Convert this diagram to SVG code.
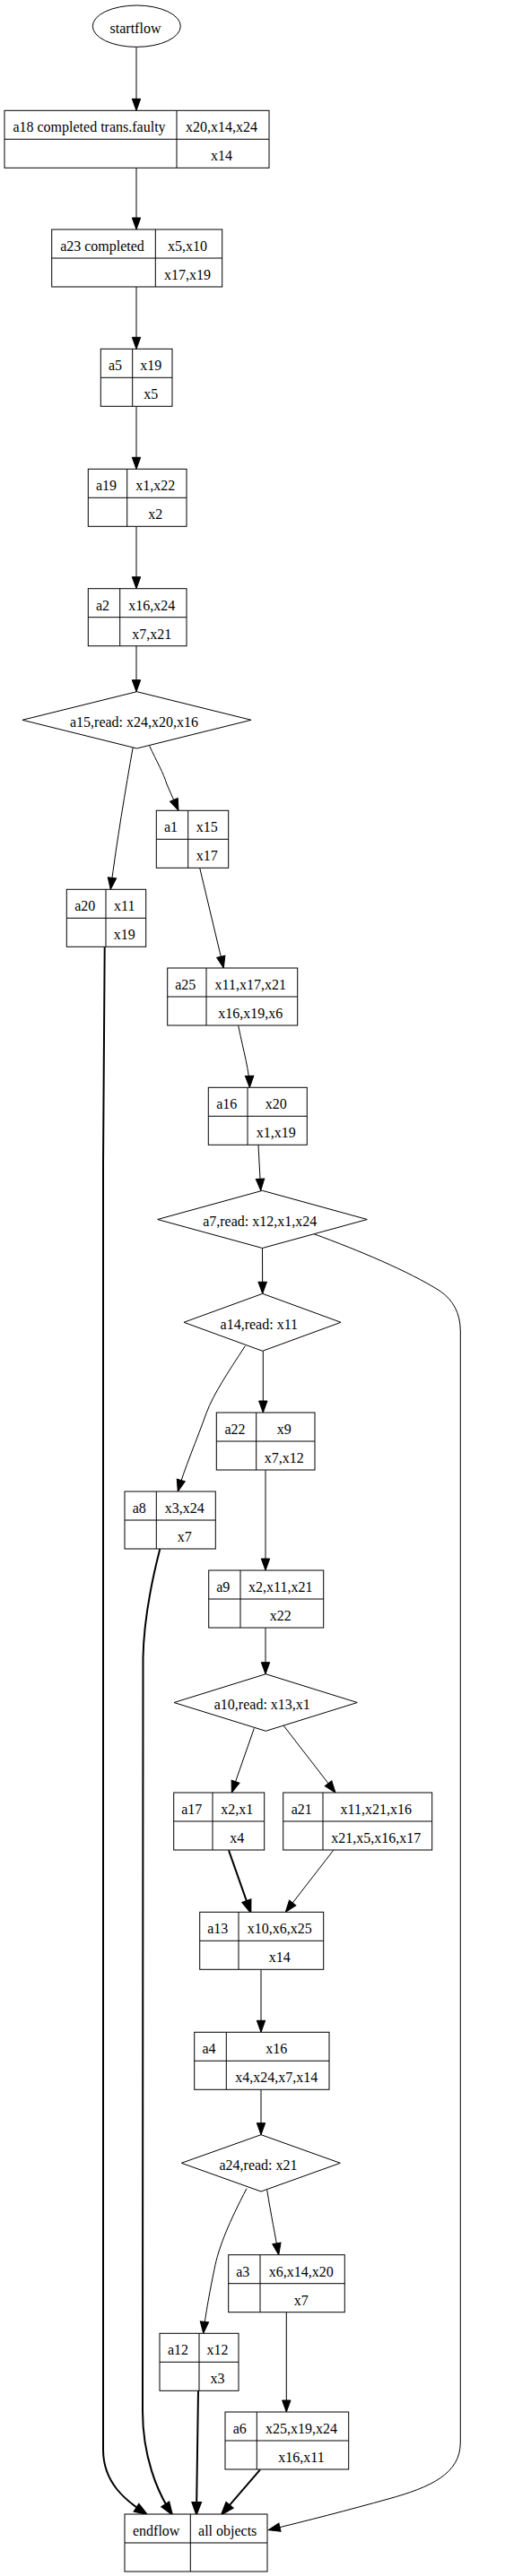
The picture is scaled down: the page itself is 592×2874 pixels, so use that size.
<svg xmlns="http://www.w3.org/2000/svg" width="592" height="2874" viewBox="0 0 592 2874">
<style>
.n{fill:#fff;stroke:#000;stroke-width:1}
.d{stroke:#000;stroke-width:1;fill:none}
text{font-family:"Liberation Serif","Times New Roman",serif;font-size:16px;fill:#000;text-anchor:middle}
.e{fill:none;stroke:#000;stroke-width:1;marker-end:url(#arr)}
.b{fill:none;stroke:#000;stroke-width:2;marker-end:url(#arrb)}
</style>
<defs>
<marker id="arr" markerUnits="userSpaceOnUse" markerWidth="15" markerHeight="12" refX="13" refY="4.7" orient="auto" overflow="visible"><path d="M0,0 L13,4.7 L0,9.4 z" fill="#000" stroke="#000" stroke-width="1"/></marker>
<marker id="arrb" markerUnits="userSpaceOnUse" markerWidth="15" markerHeight="12" refX="13" refY="4.7" orient="auto" overflow="visible"><path d="M0,0 L13,4.7 L0,9.4 z" fill="#000" stroke="#000" stroke-width="2"/></marker>
</defs>
<rect width="592" height="2874" fill="#fff"/>
<g id="edges">
<path class="e" d="M152,52.3 L152,123.3"/>
<path class="e" d="M152,187.3 L152,256"/>
<path class="e" d="M152,320 L152,389.3"/>
<path class="e" d="M152,453.3 L152,523.3"/>
<path class="e" d="M152,587.3 L152,656.7"/>
<path class="e" d="M152,720.7 L152,771.7"/>
<path class="e" d="M148.3,833.3 C140,880 130,940 123.3,992.3"/>
<path class="e" d="M166.7,832.3 C175,850 182,862 186,875 C190,885 195,895 199,904.3"/>
<path class="e" d="M222.7,968.3 L249.3,1080"/>
<path class="e" d="M265.7,1144.3 C272,1175 278,1195 278.3,1213.3"/>
<path class="e" d="M288,1277.3 L290.7,1328.3"/>
<path class="e" d="M292.5,1392.5 L292.7,1443.3"/>
<path class="e" d="M350,1376.7 C400,1395 455,1418 490,1440 C505,1450 513.3,1465 513.3,1485 L513.3,2725 C513.3,2760 480,2775 433,2788 C390,2800 340,2813 299.3,2822.7"/>
<path class="e" d="M293.3,1507.3 L293.3,1576"/>
<path class="e" d="M273.3,1501.7 C255,1530 238,1555 230,1576.7 C220,1605 205,1640 198.3,1664"/>
<path class="e" d="M296,1640.3 L296,1752"/>
<path class="e" d="M296,1816.3 L296,1867.7"/>
<path class="e" d="M283.3,1928.3 L258.3,2000"/>
<path class="e" d="M316,1925 L374,2000"/>
<path class="b" d="M255,2064.3 L279.3,2133.3"/>
<path class="e" d="M371.7,2064.3 L318.3,2133.3"/>
<path class="e" d="M291,2197.3 L291,2267.3"/>
<path class="e" d="M291,2331.7 L291,2381.7"/>
<path class="e" d="M297.7,2443.3 C302,2470 307,2495 310.7,2515.7"/>
<path class="e" d="M275,2441.7 C255,2480 245,2505 240,2526.7 C233,2560 228,2590 226.7,2603.3"/>
<path class="e" d="M319.3,2579.3 L319.3,2691"/>
<path class="b" d="M116.7,1056.7 L115,1300 L115,2733 C115,2770 140,2790 163.3,2805"/>
<path class="b" d="M178.3,1728.3 C165,1780 160,1820 159.5,1850 L159,2690 C159,2740 175,2780 191.7,2805"/>
<path class="b" d="M221,2667.3 L219,2805"/>
<path class="b" d="M290,2755.3 L247.3,2805"/>
</g>
<g id="startflow">
<ellipse class="n" cx="152.3" cy="29.2" rx="49" ry="23.2"/>
<text x="151" y="36.7">startflow</text>
</g>
<g id="a18">
<rect class="n" x="5" y="123.3" width="295" height="64"/>
<path class="d" d="M197,123.3 V187.3 M5,155.3 H300"/>
<text x="99.5" y="147.3">a18 completed trans.faulty</text>
<text x="247" y="147.3">x20,x14,x24</text>
<text x="247" y="179.3">x14</text>
</g>
<g id="a23">
<rect class="n" x="57.7" y="256" width="190" height="64"/>
<path class="d" d="M173.3,256 V320 M57.7,288 H247.7"/>
<text x="114" y="280">a23 completed</text>
<text x="209" y="280">x5,x10</text>
<text x="209" y="312">x17,x19</text>
</g>
<g id="a5">
<rect class="n" x="112.3" y="389.3" width="79.7" height="64"/>
<path class="d" d="M147.7,389.3 V453.3 M112.3,421.3 H192"/>
<text x="128.5" y="413.3">a5</text>
<text x="168.3" y="413.3">x19</text>
<text x="168.3" y="445.3">x5</text>
</g>
<g id="a19">
<rect class="n" x="98.3" y="523.3" width="109.7" height="64"/>
<path class="d" d="M141.7,523.3 V587.3 M98.3,555.3 H208"/>
<text x="118.5" y="547.3">a19</text>
<text x="173.3" y="547.3">x1,x22</text>
<text x="173.3" y="579.3">x2</text>
</g>
<g id="a2">
<rect class="n" x="98.3" y="656.7" width="109.7" height="64"/>
<path class="d" d="M133.7,656.7 V720.7 M98.3,688.7 H208"/>
<text x="114.5" y="680.7">a2</text>
<text x="169.3" y="680.7">x16,x24</text>
<text x="169.3" y="712.7">x7,x21</text>
</g>
<g id="a15">
<polygon class="n" points="152.5,771.7 280,803.3 152.5,835 25,803.3"/>
<text x="149.5" y="810.7">a15,read: x24,x20,x16</text>
</g>
<g id="a1">
<rect class="n" x="174.3" y="904.3" width="80.4" height="64"/>
<path class="d" d="M209.7,904.3 V968.3 M174.3,936.3 H254.7"/>
<text x="190.5" y="928.3">a1</text>
<text x="230.7" y="928.3">x15</text>
<text x="230.7" y="960.3">x17</text>
</g>
<g id="a20">
<rect class="n" x="74.3" y="992.3" width="88.4" height="64"/>
<path class="d" d="M118,992.3 V1056.3 M74.3,1024.3 H162.7"/>
<text x="94.7" y="1016.3">a20</text>
<text x="138.8" y="1016.3">x11</text>
<text x="138.8" y="1048.3">x19</text>
</g>
<g id="a25">
<rect class="n" x="186.7" y="1080" width="145" height="64"/>
<path class="d" d="M230,1080 V1144 M186.7,1112 H331.7"/>
<text x="206.8" y="1104">a25</text>
<text x="279.3" y="1104">x11,x17,x21</text>
<text x="279.3" y="1136">x16,x19,x6</text>
</g>
<g id="a16">
<rect class="n" x="232.3" y="1213.3" width="110" height="64"/>
<path class="d" d="M276,1213.3 V1277.3 M232.3,1245.3 H342.3"/>
<text x="252.7" y="1237.3">a16</text>
<text x="307.7" y="1237.3">x20</text>
<text x="307.7" y="1269.3">x1,x19</text>
</g>
<g id="a7">
<polygon class="n" points="292.5,1328.3 409.3,1360.5 292.5,1392.5 175.7,1360.5"/>
<text x="289.7" y="1367.7">a7,read: x12,x1,x24</text>
</g>
<g id="a14">
<polygon class="n" points="292.7,1443.3 380,1475.3 292.7,1507.3 205,1475.3"/>
<text x="288.8" y="1482.7">a14,read: x11</text>
</g>
<g id="a22">
<rect class="n" x="241.3" y="1576" width="109.7" height="64"/>
<path class="d" d="M285.7,1576 V1640 M241.3,1608 H351"/>
<text x="262" y="1600">a22</text>
<text x="316.8" y="1600">x9</text>
<text x="316.8" y="1632">x7,x12</text>
</g>
<g id="a8">
<rect class="n" x="139" y="1664" width="101.3" height="64"/>
<path class="d" d="M174.3,1664 V1728 M139,1696 H240.3"/>
<text x="155.2" y="1688">a8</text>
<text x="205.8" y="1688">x3,x24</text>
<text x="205.8" y="1720">x7</text>
</g>
<g id="a9">
<rect class="n" x="232.7" y="1752" width="128" height="64"/>
<path class="d" d="M268,1752 V1816 M232.7,1784 H360.7"/>
<text x="248.8" y="1776">a9</text>
<text x="312.8" y="1776">x2,x11,x21</text>
<text x="312.8" y="1808">x22</text>
</g>
<g id="a10">
<polygon class="n" points="296.3,1867.7 398.3,1899.5 296.3,1931.3 194,1899.5"/>
<text x="292.3" y="1906.7">a10,read: x13,x1</text>
</g>
<g id="a17">
<rect class="n" x="193.7" y="2000" width="101" height="64"/>
<path class="d" d="M237,2000 V2064 M193.7,2032 H294.7"/>
<text x="213.8" y="2024">a17</text>
<text x="264.3" y="2024">x2,x1</text>
<text x="264.3" y="2056">x4</text>
</g>
<g id="a21">
<rect class="n" x="315.7" y="2000" width="166" height="64"/>
<path class="d" d="M360,2000 V2064 M315.7,2032 H481.7"/>
<text x="336.3" y="2024">a21</text>
<text x="419.3" y="2024">x11,x21,x16</text>
<text x="419.3" y="2056">x21,x5,x16,x17</text>
</g>
<g id="a13">
<rect class="n" x="222.7" y="2133.3" width="138" height="64"/>
<path class="d" d="M266,2133.3 V2197.3 M222.7,2165.3 H360.7"/>
<text x="242.8" y="2157.3">a13</text>
<text x="311.8" y="2157.3">x10,x6,x25</text>
<text x="311.8" y="2189.3">x14</text>
</g>
<g id="a4">
<rect class="n" x="216.7" y="2267.3" width="150.3" height="64"/>
<path class="d" d="M252.3,2267.3 V2331.3 M216.7,2299.3 H367"/>
<text x="233" y="2291.3">a4</text>
<text x="308.2" y="2291.3">x16</text>
<text x="308.2" y="2323.3">x4,x24,x7,x14</text>
</g>
<g id="a24">
<polygon class="n" points="291,2381.7 379.3,2413.3 291,2445 202.3,2413.3"/>
<text x="288" y="2420.7">a24,read: x21</text>
</g>
<g id="a3">
<rect class="n" x="254.7" y="2515.7" width="129.6" height="64"/>
<path class="d" d="M290,2515.7 V2579.7 M254.7,2547.7 H384.3"/>
<text x="270.8" y="2539.7">a3</text>
<text x="335.7" y="2539.7">x6,x14,x20</text>
<text x="335.7" y="2571.7">x7</text>
</g>
<g id="a12">
<rect class="n" x="178" y="2603.3" width="88" height="64"/>
<path class="d" d="M222,2603.3 V2667.3 M178,2635.3 H266"/>
<text x="198.5" y="2627.3">a12</text>
<text x="242.5" y="2627.3">x12</text>
<text x="242.5" y="2659.3">x3</text>
</g>
<g id="a6">
<rect class="n" x="251" y="2691" width="137.7" height="64"/>
<path class="d" d="M286.3,2691 V2755 M251,2723 H388.7"/>
<text x="267.2" y="2715">a6</text>
<text x="336" y="2715">x25,x19,x24</text>
<text x="336" y="2747">x16,x11</text>
</g>
<g id="endflow">
<rect class="n" x="139" y="2805" width="159" height="64"/>
<path class="d" d="M212.3,2805 V2869 M139,2837 H298"/>
<text x="174.2" y="2829">endflow</text>
<text x="253.7" y="2829">all objects</text>
</g>
</svg>
